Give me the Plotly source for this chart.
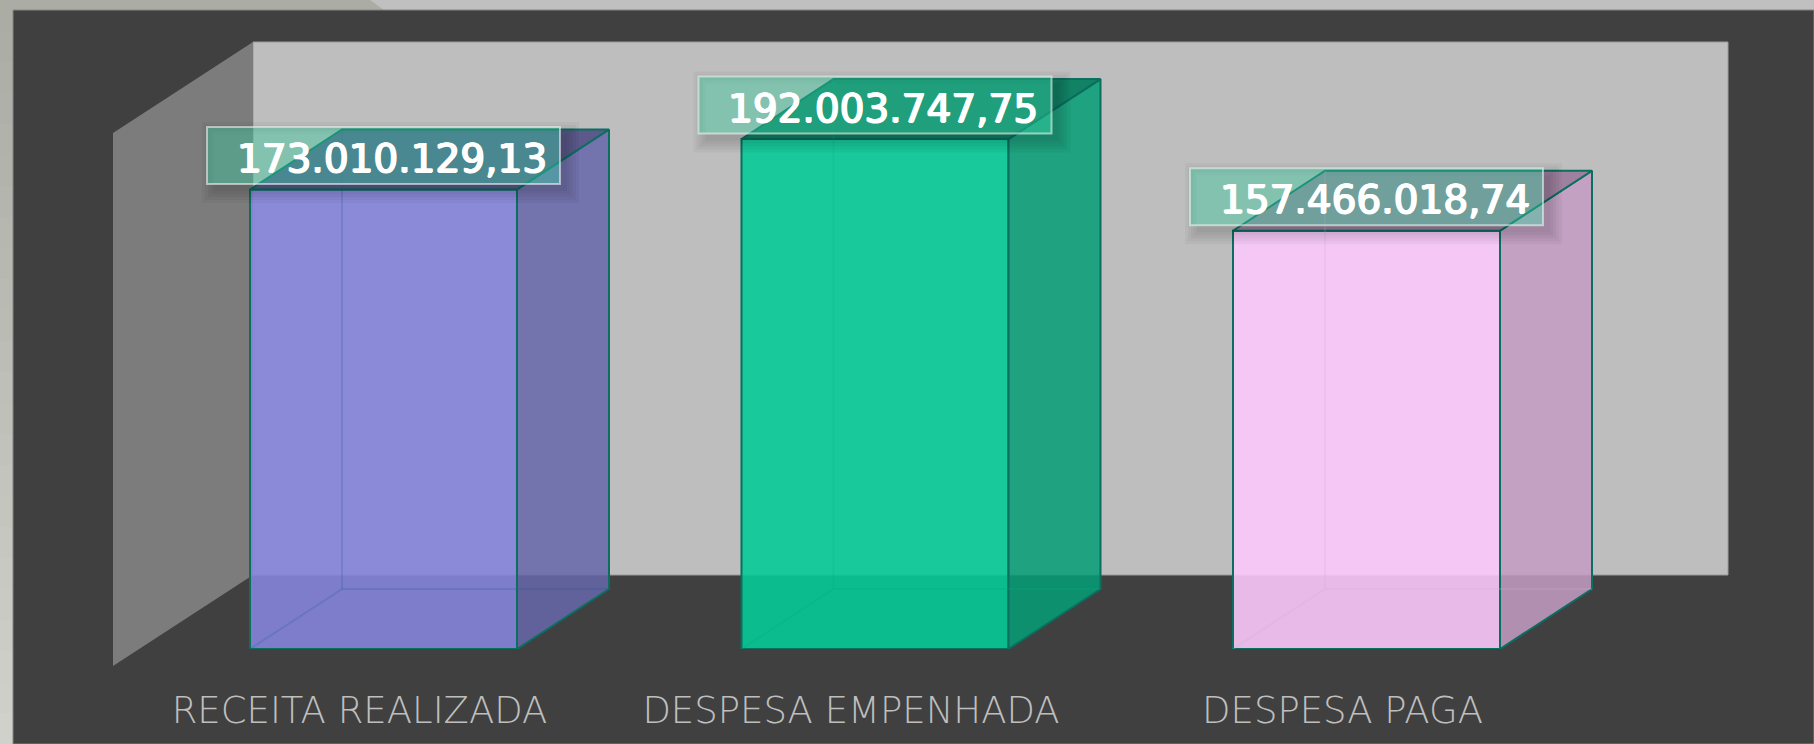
import plotly.graph_objects as go

categories = ["RECEITA REALIZADA", "DESPESA EMPENHADA", "DESPESA PAGA"]
values = [173010129.13, 192003747.75, 157466018.74]
value_labels = ["173.010.129,13", "192.003.747,75", "157.466.018,74"]
front_rgb = [(133, 132, 219), (5, 202, 151), (250, 200, 251)]

W, H = 1814, 744
AXIS_PX = 649            # pixel row of the zero line
PX_PER_UNIT_X = 491.5
PX_PER_VALUE = 2.656e-6
X0_PX = 383.5
BAR_W = 267 / PX_PER_UNIT_X
DX = 92 / PX_PER_UNIT_X
DY = 60 / PX_PER_VALUE
EDGE = "#0B6F60"
positions = list(range(len(values)))


def rgba(c, f=1.0, a=1.0):
    return f"rgba({int(c[0]*f)},{int(c[1]*f)},{int(c[2]*f)},{a})"


def px(x):
    return x / W


def py(y):
    return 1 - y / AXIS_PX


def poly(points):
    return "M" + "L".join(f"{px(x)},{py(y)}" for x, y in points) + "Z"


fig = go.Figure()

fig.add_trace(go.Bar(
    x=positions, y=values, width=BAR_W, cliponaxis=False, hoverinfo="skip",
    marker=dict(color=[rgba(c, 1, 0.9) for c in front_rgb],
                line=dict(color=EDGE, width=2)),
))

for i, v, c in zip(positions, values, front_rgb):
    l, r = i - BAR_W / 2, i + BAR_W / 2
    # right face
    fig.add_trace(go.Scatter(
        x=[r, r + DX, r + DX, r, r], y=[0, DY, v + DY, v, 0],
        mode="lines", fill="toself", fillcolor=rgba(c, 0.78, 0.86),
        line=dict(color=EDGE, width=2), cliponaxis=False, hoverinfo="skip"))
    # top face
    fig.add_trace(go.Scatter(
        x=[l, l + DX, r + DX, r, l], y=[v, v + DY, v + DY, v, v],
        mode="lines", fill="toself", fillcolor=rgba(c, 0.62, 0.92),
        line=dict(color=EDGE, width=2), cliponaxis=False, hoverinfo="skip"))
    # rear edges, seen through the translucent faces
    fig.add_trace(go.Scatter(
        x=[l, l + DX, l + DX, None, l + DX, r + DX],
        y=[0, DY, v + DY, None, DY, DY],
        mode="lines", line=dict(color=rgba((40, 110, 170) if i == 0 else c, 0.85, 0.22), width=2),
        cliponaxis=False, hoverinfo="skip"))

shapes = [
    # outer slide background
    dict(type="path", path=poly([(0, 0), (370, 0), (384, 10), (13, 10), (13, H), (0, H)]),
         xref="paper", yref="paper", fillcolor="#ABACA4", line_width=0, layer="below"),
]
# left strip of the slide: a light vertical ramp
for b in range(1, 24):
    t = b / 24
    col = (int(171 + 38 * t), int(172 + 39 * t), int(164 + 40 * t))
    shapes.append(dict(type="rect", xref="paper", yref="paper", x0=px(0), x1=px(13),
                       y0=py(H * t), y1=py(H * (t + 1 / 24)),
                       fillcolor=f"rgb{col}", line_width=0, layer="below"))
shapes += [
    # panel
    dict(type="rect", xref="paper", yref="paper", x0=px(13), x1=px(W), y0=py(10), y1=py(H),
         fillcolor="#404040", line=dict(color="#858585", width=1), layer="below"),
    # back wall and side wall
    dict(type="rect", xref="paper", yref="paper", x0=px(253), x1=px(1728), y0=py(42), y1=py(575),
         fillcolor="#BEBEBE", line=dict(color="#9A9A9A", width=1), layer="below"),
    dict(type="path", path=poly([(113, 133), (253, 42), (253, 575), (113, 666)]),
         xref="paper", yref="paper", fillcolor="#7C7C7C", line_width=0, layer="below"),
]

annotations = []
BOX_W = 353 / PX_PER_UNIT_X
BOX_LIFT = 34 / PX_PER_VALUE
BOX_HALF = 28.5 / PX_PER_VALUE
for i, v, label in zip(positions, values, value_labels):
    yc = v + BOX_LIFT
    bx0, bx1 = i - BOX_W / 2, i + BOX_W / 2
    by0, by1 = yc - BOX_HALF, yc + BOX_HALF
    # soft drop shadow, with the label box cut out of it
    for grow in (12, 9, 6, 3, 0):
        gx, gy = grow / PX_PER_UNIT_X, grow / PX_PER_VALUE
        sx, sy = 7 / PX_PER_UNIT_X, 7 / PX_PER_VALUE
        x0, x1 = bx0 + sx - gx, bx1 + sx + gx
        y0, y1 = by0 - sy - gy, by1 - sy + gy
        shapes.append(dict(
            type="path", xref="x", yref="y", layer="above", line_width=0,
            path=(f"M{x0},{y0}L{x1},{y0}L{x1},{y1}L{x0},{y1}Z"
                  f"M{bx0},{by0}L{bx0},{by1}L{bx1},{by1}L{bx1},{by0}Z"),
            fillcolor="rgba(0,0,0,0.035)"))
    shapes.append(dict(
        type="rect", xref="x", yref="y", layer="above",
        x0=bx0, x1=bx1, y0=by0, y1=by1,
        fillcolor="rgba(50,200,155,0.42)", line=dict(color="rgba(235,245,240,0.6)", width=2)))
    annotations.append(dict(
        x=i, y=yc, xref="x", yref="y", text=label, showarrow=False, xshift=8, yshift=-3,
        font=dict(family="DejaVu Sans", size=39, color="white",
                  shadow="0.9px 0 0 white, -0.9px 0 0 white, 0 0.7px 0 white, 0 -0.4px 0 white")))

fig.update_layout(
    width=W, height=H, autosize=False,
    margin=dict(l=0, r=0, t=0, b=H - AXIS_PX, pad=0),
    paper_bgcolor="#C0C0C0", plot_bgcolor="rgba(0,0,0,0)",
    showlegend=False, shapes=shapes, annotations=annotations,
    xaxis=dict(
        range=[-X0_PX / PX_PER_UNIT_X, (W - X0_PX) / PX_PER_UNIT_X],
        tickmode="array", tickvals=[p - 24 / PX_PER_UNIT_X for p in positions],
        ticktext=categories, ticks="", showgrid=False, zeroline=False, showline=False,
        ticklabelstandoff=36,
        tickfont=dict(family="DejaVu Sans", size=37, color="#BEBEBE", weight=200)),
    yaxis=dict(range=[0, AXIS_PX / PX_PER_VALUE], visible=False),
    hovermode=False,
)
fig.write_html("out.html", config={"displayModeBar": False},
               post_script="document.body.style.margin='0';document.body.style.overflow='hidden';")
